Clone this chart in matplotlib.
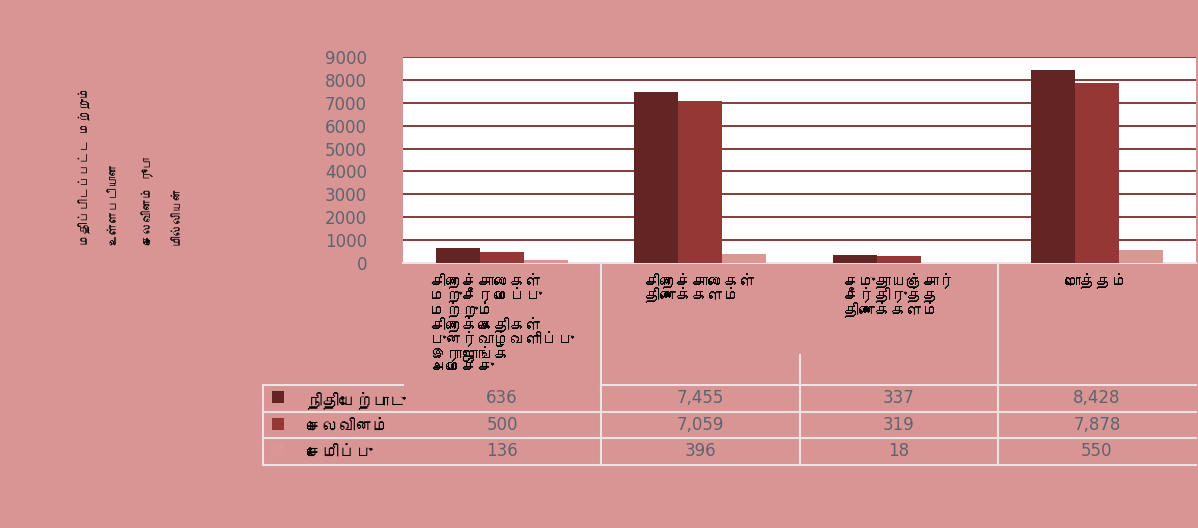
import matplotlib
matplotlib.use("Agg")
import matplotlib.pyplot as plt
import numpy as np
from matplotlib import font_manager as fm
from matplotlib.lines import Line2D
from matplotlib.patches import Rectangle
import matplotlib.transforms as mtransforms

# ---------------- data ----------------
categories = [
    "சிறைச்சாலைகள்\nமறுசீரமைப்பு\nமற்றும்\nசிறைக்கைதிகள்\nபுனர்வாழ்வளிப்பு\nஇராஜாங்க\nஅமைச்சு",
    "சிறைச்சாலைகள்\nதிணைக்களம்",
    "சமுதாயஞ்சார்\nசீர்திருத்த\nதிணைக்களம்",
    "மொத்தம்",
]
series_names = ["நிதியேற்பாடு", "செலவினம்", "சேமிப்பு"]
allocation = [636, 7455, 337, 8428]
expenditure = [500, 7059, 319, 7878]
savings = [136, 396, 18, 550]
y_ticks = [0, 1000, 2000, 3000, 4000, 5000, 6000, 7000, 8000, 9000]
y_label = "மதிப்பிடப்பட்ட மற்றும்\nஉள்ளபடியான\nசெலவினம் ரூபா\nமில்லியன்"

# ---------------- fonts ----------------
tamil_family = None
try:
    from fontTools.ttLib import TTFont
    for f in fm.fontManager.ttflist:
        try:
            tt = TTFont(f.fname, fontNumber=0, lazy=True)
            cmap = tt.getBestCmap()
            if cmap and 0x0B95 in cmap:
                tamil_family = f.name
                break
        except Exception:
            pass
except Exception:
    pass
fam = [tamil_family, "DejaVu Sans"] if tamil_family else ["DejaVu Sans"]

BG = "#D99594"
C1 = "#632523"
C2 = "#953735"
C3 = "#DA9794"
GRID = "#7A2C2A"
TBL = "#EDE3E3"
NUM = "#5F6470"

W, H = 1198, 528
fig = plt.figure(figsize=(W / 100, H / 100), dpi=100, facecolor=BG)

def fx(px):
    return px / W

def fy(py):
    return (H - py) / H

ax_l, ax_r, ax_t, ax_b = 403, 1196, 57, 263
ax = fig.add_axes([fx(ax_l), fy(ax_b), fx(ax_r - ax_l), fy(ax_t) - fy(ax_b)])
ax.set_facecolor("white")

x = np.arange(len(categories))
bw = 0.222
series = [allocation, expenditure, savings]
colors = [C1, C2, C3]
for i, (vals, c) in enumerate(zip(series, colors)):
    ax.bar(x + (i - 1) * bw, vals, width=bw, color=c, zorder=3, linewidth=0)

ax.set_xlim(-0.5, len(categories) - 0.5)
ax.set_ylim(0, 9000)
ax.set_yticks(y_ticks)
ax.set_yticklabels([str(t) for t in y_ticks], fontsize=12, color=NUM, family="DejaVu Sans")
ax.tick_params(axis="y", length=0, pad=26)
ax.yaxis.grid(True, color=GRID, linewidth=1.3, zorder=1)
ax.set_axisbelow(True)
for s in ["left", "right", "top"]:
    ax.spines[s].set_visible(False)
ax.spines["bottom"].set_color(TBL)
ax.spines["bottom"].set_linewidth(1.5)

ax.set_xticks(x)
ax.set_xticklabels(categories, family=fam, fontsize=11.5, fontweight="bold",
                   color="black", va="top", ha="center", multialignment="left",
                   linespacing=0.9)
ax.tick_params(axis="x", length=0, pad=7)

# blended transform: x in data, y in figure pixels from top
trans = mtransforms.blended_transform_factory(ax.transData, fig.transFigure)

def hline(py, x0, x1):
    fig.add_artist(Line2D([fx(x0), fx(x1)], [fy(py), fy(py)],
                          transform=fig.transFigure, color=TBL, lw=1.5))

def vline_data(xd, y0, y1):
    fig.add_artist(Line2D([xd, xd], [fy(y0), fy(y1)], transform=trans,
                          color=TBL, lw=1.5))

# category separators / table grid
vline_data(0.5, 263, 465)
vline_data(1.5, 355, 465)
vline_data(2.5, 263, 465)
fig.add_artist(Line2D([fx(263), fx(263)], [fy(385), fy(465)],
                      transform=fig.transFigure, color=TBL, lw=1.5))
hline(385, 263, 403)
fig.add_artist(Line2D([0.5, 3.5], [fy(385), fy(385)], transform=trans, color=TBL, lw=1.5))
for py in [412, 438, 465]:
    hline(py, 263, 1196)

row_y = [398, 425, 451]
for r, (name, vals, c) in enumerate(zip(series_names, series, colors)):
    py = row_y[r]
    fig.add_artist(Rectangle((fx(272), fy(py + 5)), fx(12), fy(py - 7) - fy(py + 5),
                             transform=fig.transFigure, facecolor=c, edgecolor="none"))
    fig.text(fx(306), fy(py + 2), name, family=fam, fontsize=12, fontweight="bold",
             color="black", ha="left", va="center")
    for j, v in enumerate(vals):
        fig.text(x[j], fy(py), f"{v:,}", transform=trans, fontsize=12, color=NUM,
                 ha="center", va="center", family="DejaVu Sans")

fig.text(fx(130), fy(245), y_label, family=fam, fontsize=8.5, fontweight="bold",
         rotation=90, ha="center", va="bottom", multialignment="left",
         linespacing=3.1, color="black")

fig.savefig("out.png", dpi=100, facecolor=BG)
